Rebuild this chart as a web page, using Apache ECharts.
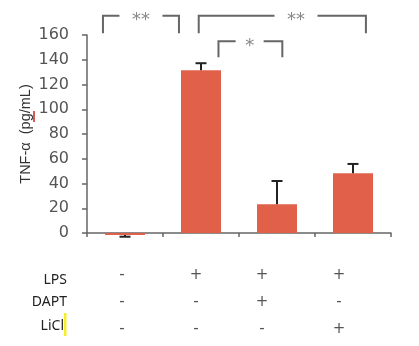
<!DOCTYPE html>
<html><head><meta charset="utf-8">
<script src="https://cdn.jsdelivr.net/npm/echarts@6/dist/echarts.min.js"></script>
<style>html,body{margin:0;padding:0;background:#fff}#c{width:419px;height:346px}</style>
</head><body><div id="c"></div>
<script>
var categories = ['G1','G2','G3','G4'];
var meanValues = [-1.6, 131.5, 23.2, 48.2];
var errorEnds = [-3.0, 137.2, 42.0, 55.8];
var yTicks = [0, 160, 20];
var rowNames = ['LPS','DAPT','LiCl'];
var rowLPS  = ['-','+','+','+'];
var rowDAPT = ['-','-','+','-'];
var rowLiCl = ['-','-','-','+'];
// significance brackets: [fromCat, toCat, textCenterCat, topValue, legBottomValue]
var sigBrackets = [[-0.29, 0.71, 0.21, 175.5, 161.5], [0.97, 3.17, 2.25, 175.5, 161.5], [1.23, 2.07, 1.64, 155, 142]];
var sigLabels = ['**','**','*'];
var sigGaps = [43, 43, 28];

var chart = echarts.init(document.getElementById('c'), null, {renderer:'canvas'});
var colOffsets = [-3, -5, -15, -14];
var rich = {};
colOffsets.forEach(function(o,i){ rich['c'+i] = {padding:[0, o<0 ? -2*o : 0, 0, o>0 ? 2*o : 0], lineHeight:27, fontSize:15, color:'#555', fontFamily:'DejaVu Sans'}; });

function catX(api, c, v){
  var a = api.coord([0, v])[0], b = api.coord([1, v])[0];
  return a + c*(b-a);
}

chart.setOption({
  animation:false,
  grid:{left:87, right:28, top:35, bottom:113},
  xAxis:{type:'category', data:categories,
    axisLine:{lineStyle:{color:'#666', width:1.5}},
    axisTick:{show:true, length:4, lineStyle:{color:'#666', width:1.5}},
    axisLabel:{margin:29, interval:0, formatter:function(v, i){
      var k='c'+i; return '{'+k+'|'+rowLPS[i]+'}\n{'+k+'|'+rowDAPT[i]+'}\n{'+k+'|'+rowLiCl[i]+'}';}, rich:rich}
  },
  yAxis:{type:'value', min:yTicks[0], max:yTicks[1], interval:yTicks[2],
    name:'TNF-α  (pg/mL)', nameLocation:'middle', nameGap:54, nameMoveOverlap:false,
    nameTextStyle:{fontSize:14.5, color:'#333', fontFamily:'Liberation Sans'},
    axisLine:{show:true, lineStyle:{color:'#666', width:1.5}},
    axisTick:{show:true, length:5, lineStyle:{color:'#666', width:1.5}},
    splitLine:{show:false},
    axisLabel:{margin:18, fontSize:16, color:'#555', fontFamily:'DejaVu Sans'}
  },
  series:[
    {type:'bar', data:meanValues, barWidth:40, clip:false, itemStyle:{color:'#E0604A'}},
    {type:'custom', clip:false, z:5,
      data: meanValues.map(function(v,i){return [i, v, errorEnds[i]];}),
      renderItem:function(params, api){
        var p1 = api.coord([api.value(0), api.value(1)]);
        var p2 = api.coord([api.value(0), api.value(2)]);
        return {type:'group', children:[
          {type:'line', shape:{x1:p1[0], y1:p1[1], x2:p2[0], y2:p2[1]}, style:{stroke:'#222', lineWidth:2}},
          {type:'line', shape:{x1:p2[0]-5.5, y1:p2[1], x2:p2[0]+5.5, y2:p2[1]}, style:{stroke:'#222', lineWidth:2}}
        ]};
      }
    },
    {type:'custom', clip:false, z:6,
      data: sigBrackets,
      renderItem:function(params, api){
        var yt = api.coord([0, api.value(3)])[1];
        var yb = api.coord([0, api.value(4)])[1];
        var x1 = catX(api, api.value(0), 0);
        var x2 = catX(api, api.value(1), 0);
        var xm = catX(api, api.value(2), 0);
        var g = sigGaps[params.dataIndex]/2;
        var st = {stroke:'#666', lineWidth:2, fill:null};
        return {type:'group', children:[
          {type:'polyline', shape:{points:[[x1, yb],[x1, yt],[xm-g, yt]]}, style:st},
          {type:'polyline', shape:{points:[[xm+g, yt],[x2, yt],[x2, yb]]}, style:st},
          {type:'text', style:{text:sigLabels[params.dataIndex], x:xm, y:yt-4, align:'center', verticalAlign:'top', fontSize:18, fill:'#888', fontFamily:'DejaVu Sans'}}
        ]};
      }
    }
  ],
  graphic:[
    {type:'text', right:419-67, top:273, style:{text:rowNames[0], fontSize:14, fill:'#222', fontFamily:'Noto Sans', align:'right'}},
    {type:'text', right:419-67, top:295, style:{text:rowNames[1], fontSize:14, fill:'#222', fontFamily:'Noto Sans', align:'right'}},
    {type:'text', right:419-64, top:319, style:{text:rowNames[2], fontSize:14, fill:'#222', fontFamily:'Noto Sans', align:'right'}},
    {type:'rect', shape:{x:64, y:313, width:2.5, height:23}, style:{fill:'#F5EE30'}},
    {type:'line', shape:{x1:34, y1:111, x2:34, y2:122}, style:{stroke:'#D02020', lineWidth:1.5}}
  ]
});
</script></body></html>
